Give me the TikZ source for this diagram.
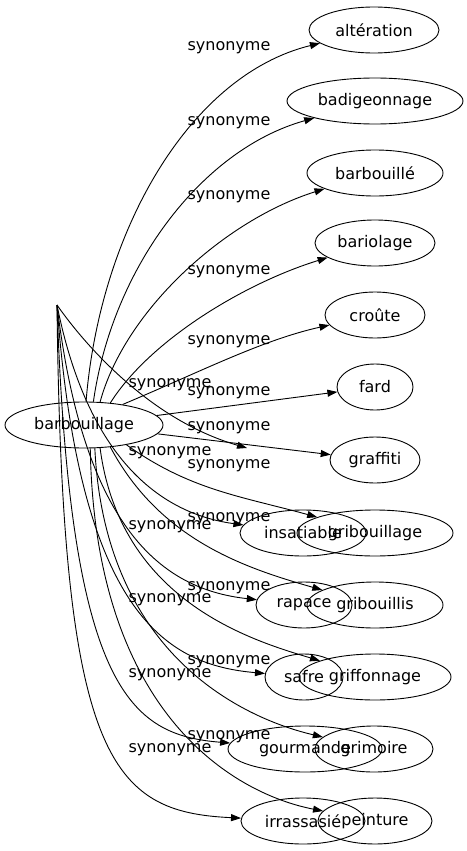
\documentclass[tikz,border=0pt]{standalone}
\usepackage{fontspec}
\setmainfont{DejaVu Sans}
\usetikzlibrary{shapes.geometric,arrows.meta}
\begin{document}
\begin{tikzpicture}[x=1pt,y=-1pt,
  word/.style={draw, ellipse, line width=0.9pt, minimum height=46pt, inner sep=0pt, font=\fontsize{16pt}{19pt}\selectfont},
  lbl/.style={inner sep=0pt, font=\fontsize{16pt}{19pt}\selectfont},
  syn/.style={draw, line width=0.9pt, -{Triangle[length=10pt,width=7pt]}}]
\useasboundingbox (0,0) rectangle (466,851);
% nodes
\node[word, minimum width=158pt] (B) at (84,425) {barbouillage};
\node[word, minimum width=130pt] (alt) at (374,30) {altération};
\node[word, minimum width=176pt] (badi) at (375,101) {badigeonnage};
\node[word, minimum width=136pt] (barb) at (375,173) {barbouillé};
\node[word, minimum width=120pt] (bario) at (375,243) {bariolage};
\node[word, minimum width=100pt] (croute) at (375,315) {croûte};
\node[word, minimum width=76pt] (fard) at (375,387) {fard};
\node[word, minimum width=90pt] (graff) at (375,460) {graffiti};
\node[word, minimum width=156pt] (gribage) at (375,533) {gribouillage};
\node[word, minimum width=126pt] (insat) at (303,533) {insatiable};
\node[word, minimum width=136pt] (gribis) at (375,605) {gribouillis};
\node[word, minimum width=96pt] (rapace) at (304,605) {rapace};
\node[word, minimum width=152pt] (griff) at (375,677) {griffonnage};
\node[word, minimum width=78pt] (safre) at (304,677) {safre};
\node[word, minimum width=118pt] (grim) at (374,749) {grimoire};
\node[word, minimum width=154pt] (gourm) at (305,749) {gourmande};
\node[word, minimum width=114pt] (peint) at (375,821) {peinture};
\node[word, minimum width=124pt] (irras) at (303,821) {irrassasié};
\coordinate (P) at (57,305);
\coordinate (Q) at (247,448);
% edges from barbouillage
\draw[syn] (B.85) .. controls (100,230) and (190,75) .. (alt);
\draw[syn] (B.68) .. controls (112,270) and (200,150) .. (badi);
\draw[syn] (B.55) .. controls (125,310) and (225,220) .. (barb);
\draw[syn] (B.40) .. controls (150,340) and (245,283) .. (bario);
\draw[syn] (B.28) .. controls (200,372) and (262,340) .. (croute);
\draw[syn] (B) -- (fard);
\draw[syn] (B) -- (graff);
\draw[syn] (B.-25) .. controls (190,490) and (240,496) .. (gribage);
\draw[syn] (B.-40) .. controls (160,540) and (245,568) .. (gribis);
\draw[syn] (B.-55) .. controls (120,600) and (250,640) .. (griff);
\draw[syn] (B.-65) .. controls (105,660) and (250,720) .. (grim);
\draw[syn] (B.-75) .. controls (95,720) and (240,795) .. (peint);
% edges from the point above
\draw[syn] (P) .. controls (85,345) and (150,420) .. (Q);
\draw[syn] (P) .. controls (90,470) and (170,515) .. (insat);
\draw[syn] (P) .. controls (85,540) and (170,590) .. (rapace);
\draw[syn] (P) .. controls (80,620) and (170,665) .. (safre);
\draw[syn] (P) .. controls (70,690) and (130,735) .. (gourm);
\draw[syn] (P) .. controls (62,760) and (110,812) .. (irras);
% labels
\node[lbl] (l1) at (229,48) {synonyme};
\node[lbl] (l2) at (229,123) {synonyme};
\node[lbl] (l3) at (229,197) {synonyme};
\node[lbl] (l4) at (229,272) {synonyme};
\node[lbl] (l5) at (229,342) {synonyme};
\node[lbl] (l6) at (229,393) {synonyme};
\node[lbl] (l7) at (229,428) {synonyme};
\node[lbl] (l8) at (229,466) {synonyme};
\node[lbl] (l9) at (229,519) {synonyme};
\node[lbl] (l10) at (229,588) {synonyme};
\node[lbl] (l11) at (229,662) {synonyme};
\node[lbl] (l12) at (229,737) {synonyme};
\node[lbl] (l13) at (170,385) {synonyme};
\node[lbl] (l14) at (170,453) {synonyme};
\node[lbl] (l15) at (170,527) {synonyme};
\node[lbl] (l16) at (170,600) {synonyme};
\node[lbl] (l17) at (170,675) {synonyme};
\node[lbl] (l18) at (170,750) {synonyme};
\end{tikzpicture}
\end{document}
